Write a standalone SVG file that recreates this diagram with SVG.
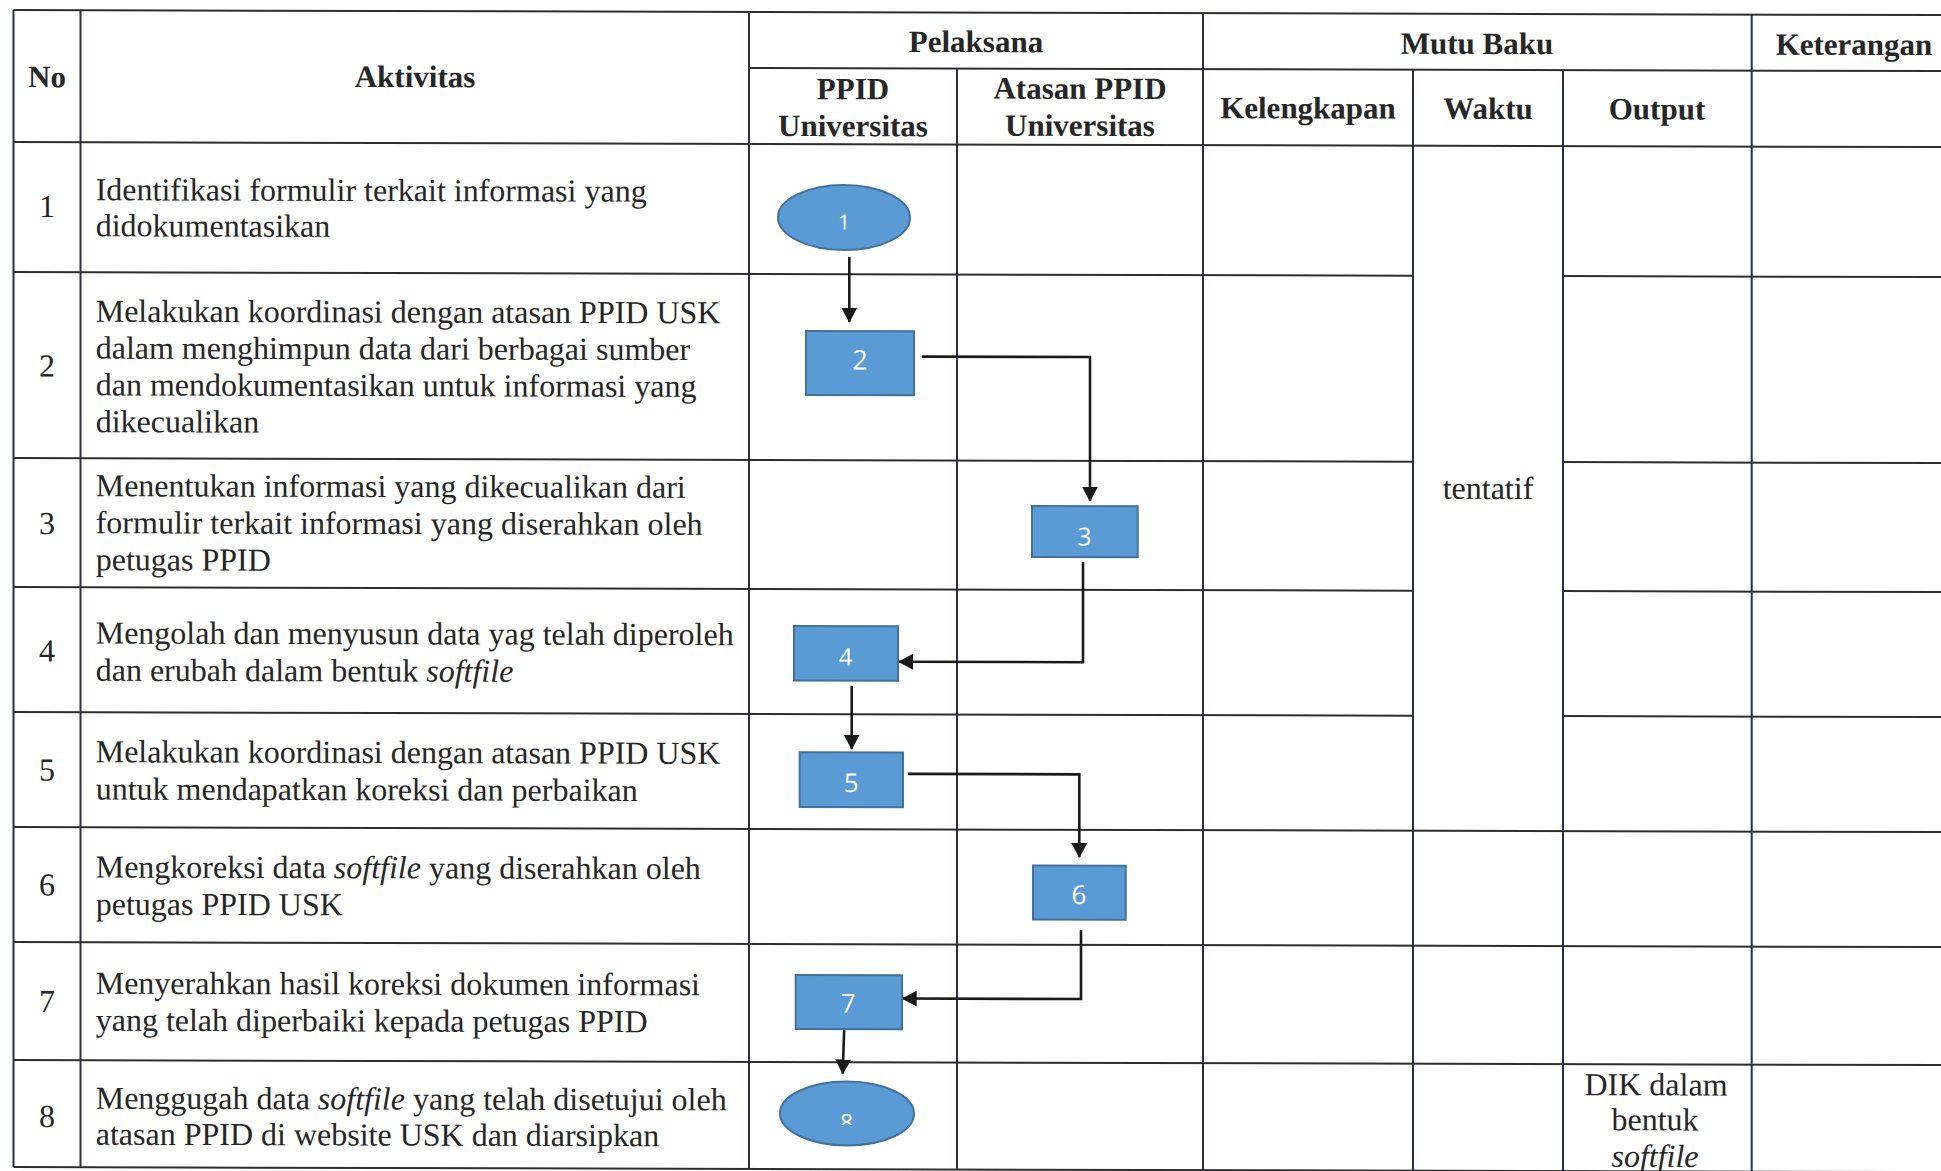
<svg xmlns="http://www.w3.org/2000/svg" width="1941" height="1171" viewBox="0 0 1941 1171">
<style>
.bg{fill:#ffffff}
.hl{stroke:#2e2e2e;stroke-width:2;fill:none}
.vl{stroke:#27304a;stroke-width:2;fill:none}
.hd{font-family:"Liberation Serif","Times New Roman",serif;font-weight:bold;font-size:31px;fill:#262626;text-anchor:middle}
.tx{font-family:"Liberation Serif","Times New Roman",serif;font-size:32px;fill:#262626}
.num{font-family:"Liberation Serif","Times New Roman",serif;font-size:32px;fill:#262626;text-anchor:middle}
.ctr{text-anchor:middle}
.node{fill:#5b9bd5;stroke:#41719c;stroke-width:2}
.lbl{font-family:"Open Sans","Noto Sans","DejaVu Sans",sans-serif;fill:#ffffff;text-anchor:middle}
.conn{stroke:#1a1a1a;stroke-width:2.6;fill:none;marker-end:url(#ah)}
</style>
<defs>
<marker id="ah" viewBox="0 0 15 16" refX="14" refY="8" markerWidth="15" markerHeight="16" markerUnits="userSpaceOnUse" orient="auto">
<path d="M0,0 L15,8 L0,16 z" fill="#1a1a1a"/>
</marker>
<clipPath id="clip8"><rect x="780" y="1070" width="140" height="52.8"/></clipPath>
</defs>
<rect class="bg" x="0" y="0" width="1941" height="1171"/>
<g transform="skewY(0.15)">
<g id="table">
<path class="hl" d="M13.5,10 H1960 M749,66 H1960 M13.5,142 H1960 M13.5,272 H1413 M1563,272 H1960 M13.5,458 H1413 M1563,458 H1960 M13.5,587 H1413 M1563,587 H1960 M13.5,712 H1413 M1563,712 H1960 M13.5,827 H1960 M13.5,942 H1960 M13.5,1060 H1960 M13.5,1167 H1960"/>
<path class="vl" d="M13.5,10 V1167 M80.5,10 V1167 M749,10 V1167 M957,66 V1167 M1203,10 V1167 M1413,66 V1167 M1563,66 V1167 M1751.7,10 V1167"/>
</g>
<g id="header">
<text class="hd" x="47" y="87">No</text>
<text class="hd" x="415" y="86">Aktivitas</text>
<text class="hd" x="976" y="49.5">Pelaksana</text>
<text class="hd" x="1477" y="50">Mutu Baku</text>
<text class="hd" x="1854" y="50">Keterangan</text>
<text class="hd" x="853" y="97">PPID</text>
<text class="hd" x="853" y="134">Universitas</text>
<text class="hd" x="1080" y="96">Atasan PPID</text>
<text class="hd" x="1080" y="133">Universitas</text>
<text class="hd" x="1308" y="115">Kelengkapan</text>
<text class="hd" x="1488" y="115">Waktu</text>
<text class="hd" x="1657" y="115">Output</text>
</g>
<g id="rows">
<text class="num" x="47" y="217">1</text>
<text class="tx" x="95.7" y="200">Identifikasi formulir terkait informasi yang</text>
<text class="tx" x="95.7" y="236">didokumentasikan</text>
<text class="num" x="47" y="376.5">2</text>
<text class="tx" x="95.7" y="321.5">Melakukan koordinasi dengan atasan PPID USK</text>
<text class="tx" x="95.7" y="358.3">dalam menghimpun data dari berbagai sumber</text>
<text class="tx" x="95.7" y="395.1">dan mendokumentasikan untuk informasi yang</text>
<text class="tx" x="95.7" y="431.9">dikecualikan</text>
<text class="num" x="47" y="534">3</text>
<text class="tx" x="95.7" y="496">Menentukan informasi yang dikecualikan dari</text>
<text class="tx" x="95.7" y="533">formulir terkait informasi yang diserahkan oleh</text>
<text class="tx" x="95.7" y="570">petugas PPID</text>
<text class="num" x="47" y="661.5">4</text>
<text class="tx" x="95.7" y="643.3">Mengolah dan menyusun data yag telah diperoleh</text>
<text class="tx" x="95.7" y="680.5">dan erubah dalam bentuk <tspan font-style="italic">softfile</tspan></text>
<text class="num" x="47" y="780.5">5</text>
<text class="tx" x="95.7" y="762">Melakukan koordinasi dengan atasan PPID USK</text>
<text class="tx" x="95.7" y="799.3">untuk mendapatkan koreksi dan perbaikan</text>
<text class="num" x="47" y="895.5">6</text>
<text class="tx" x="95.7" y="877.3">Mengkoreksi data <tspan font-style="italic">softfile</tspan> yang diserahkan oleh</text>
<text class="tx" x="95.7" y="914.5">petugas PPID USK</text>
<text class="num" x="47" y="1012">7</text>
<text class="tx" x="95.7" y="993.5">Menyerahkan hasil koreksi dokumen informasi</text>
<text class="tx" x="95.7" y="1030.5">yang telah diperbaiki kepada petugas PPID</text>
<text class="num" x="47" y="1127">8</text>
<text class="tx" x="95.7" y="1108.5">Menggugah data <tspan font-style="italic">softfile</tspan> yang telah disetujui oleh</text>
<text class="tx" x="95.7" y="1144.5">atasan PPID di website USK dan diarsipkan</text>
<text class="tx ctr" x="1488" y="495">tentatif</text>
<text class="tx ctr" x="1656" y="1091">DIK dalam</text>
<text class="tx ctr" x="1655" y="1126">bentuk</text>
<text class="tx ctr" x="1655" y="1162.5" font-style="italic">softfile</text>
</g>
<g id="connectors">
<path class="conn" d="M849.3,254.8 V319.5"/>
<path class="conn" d="M921.7,354.2 H1090 V497.8"/>
<path class="conn" d="M1083,559.2 V659.4 H899"/>
<path class="conn" d="M851.7,683.4 V746.4"/>
<path class="conn" d="M908,771.5 H1079.3 V854.2"/>
<path class="conn" d="M1081,927.2 V996.2 H902.7"/>
<path class="conn" d="M844.3,1023.8 L842.7,1071.3"/>
</g>
<g id="node1">
<ellipse class="node" cx="844" cy="215.3" rx="66" ry="32.5"/>
<text class="lbl" x="844" y="227.3" font-size="21">1</text>
</g>
<g id="node2">
<rect class="node" x="806" y="328.8" width="108" height="64"/>
<text class="lbl" x="860" y="367.4" font-size="27">2</text>
</g>
<g id="node3">
<rect class="node" x="1032" y="503.2" width="105.7" height="51"/>
<text class="lbl" x="1084.3" y="542.8" font-size="25">3</text>
</g>
<g id="node4">
<rect class="node" x="794" y="623.8" width="104" height="54.7"/>
<text class="lbl" x="845.7" y="663.4" font-size="24">4</text>
</g>
<g id="node5">
<rect class="node" x="799.7" y="750.2" width="103.3" height="54.6"/>
<text class="lbl" x="851.3" y="789.7" font-size="26">5</text>
</g>
<g id="node6">
<rect class="node" x="1033" y="862.8" width="92.7" height="54"/>
<text class="lbl" x="1079" y="901.2" font-size="26">6</text>
</g>
<g id="node7">
<rect class="node" x="795.7" y="972.8" width="106.3" height="54"/>
<text class="lbl" x="848.3" y="1010.4" font-size="26">7</text>
</g>
<g id="node8">
<ellipse class="node" cx="847" cy="1111.3" rx="67" ry="32"/>
<text class="lbl" x="846.7" y="1128.2" font-size="23" clip-path="url(#clip8)">8</text>
</g>
</g>
</svg>
